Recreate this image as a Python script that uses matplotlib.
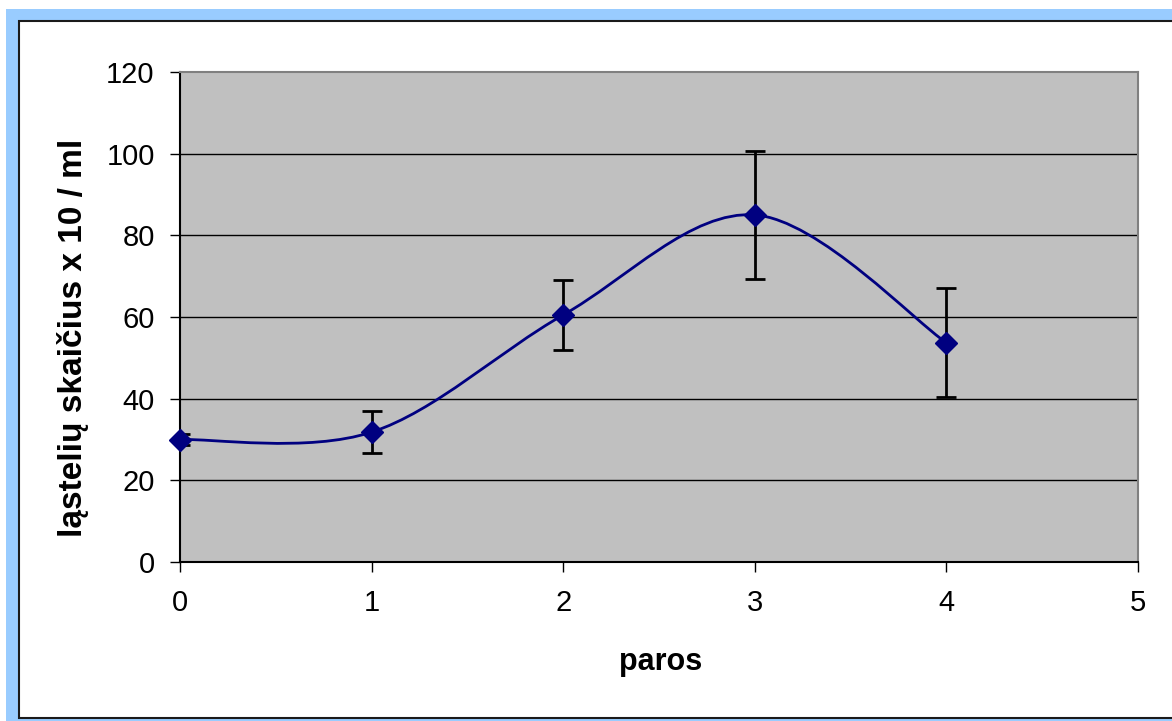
import matplotlib
matplotlib.use("Agg")
import matplotlib.pyplot as plt
from matplotlib.path import Path
from matplotlib.patches import PathPatch, Rectangle

days = [0, 1, 2, 3, 4]
cells = [30.0, 31.8, 60.5, 85.0, 53.7]
errors = [1.3, 5.1, 8.5, 15.6, 13.3]

y_ticks = [0, 20, 40, 60, 80, 100, 120]
x_ticks = [0, 1, 2, 3, 4, 5]

W, H = 1172, 721
fig = plt.figure(figsize=(W / 100, H / 100), dpi=100)
fig.patch.set_facecolor('white')

# Excel-like chart frame: light blue border with dark inner edge
fig.patches.append(Rectangle((6 / W, -0.01), 1.0, 1 - 9 / H + 0.01,
                             transform=fig.transFigure, facecolor='#99ccff',
                             edgecolor='none', zorder=-10))
fig.patches.append(Rectangle((19 / W, 3 / H), 1.0, 1 - 24 / H,
                             transform=fig.transFigure, facecolor='white',
                             edgecolor='#1a1a1a', linewidth=1.5, zorder=-9))

axs = fig.add_axes([180 / W, 1 - 562 / H, (1138 - 180) / W, (562 - 72) / H])
axs.set_facecolor('#c0c0c0')
axs.set_xlim(0, 5)
axs.set_ylim(0, 120)

for v in y_ticks[1:-1]:
  axs.axhline(v, color='black', linewidth=1.0, zorder=1)

# smoothed line (Excel style bezier through the points)
pts = list(zip(days, cells))
verts = [pts[0]]
codes = [Path.MOVETO]
n = len(pts)
for i in range(n - 1):
  p0 = pts[max(i - 1, 0)]
  p1 = pts[i]
  p2 = pts[i + 1]
  p3 = pts[min(i + 2, n - 1)]
  c1 = (p1[0] + (p2[0] - p0[0]) / 6.0, p1[1] + (p2[1] - p0[1]) / 6.0)
  c2 = (p2[0] - (p3[0] - p1[0]) / 6.0, p2[1] - (p3[1] - p1[1]) / 6.0)
  verts += [c1, c2, p2]
  codes += [Path.CURVE4] * 3
axs.add_patch(PathPatch(Path(verts, codes), facecolor='none',
                        edgecolor='#000080', linewidth=2, zorder=3))

axs.errorbar(days, cells, yerr=errors, fmt='none', ecolor='black',
             elinewidth=2, capsize=7, capthick=2, zorder=4)
axs.plot(days, cells, linestyle='none', marker='D', markersize=11,
         color='#000080', zorder=5, clip_on=False)

axs.set_xticks(x_ticks)
axs.set_yticks(y_ticks)
axs.tick_params(axis='both', direction='out', length=7.2, width=1,
                labelsize=21, colors='black')
axs.tick_params(axis='x', pad=12)
axs.tick_params(axis='y', pad=11)
for lbl in axs.get_xticklabels() + axs.get_yticklabels():
  lbl.set_family('Liberation Sans')

axs.spines['left'].set_color('black')
axs.spines['bottom'].set_color('black')
axs.spines['top'].set_color('#808080')
axs.spines['right'].set_color('#808080')
for s in axs.spines.values():
  s.set_linewidth(1.5)

axs.set_xlabel('paros', fontsize=22, fontweight='bold',
               family='Liberation Sans')
axs.xaxis.set_label_coords(0.502, -0.2204)
axs.xaxis.label.set_verticalalignment('baseline')

axs.set_ylabel('ląstelių skaičius x 10 / ml', fontsize=24, fontweight='bold',
               family='Liberation Sans')
axs.yaxis.set_label_coords(-0.1023, 0.457)
axs.yaxis.label.set_verticalalignment('baseline')

plt.savefig('out.png', dpi=100)
plt.close()
